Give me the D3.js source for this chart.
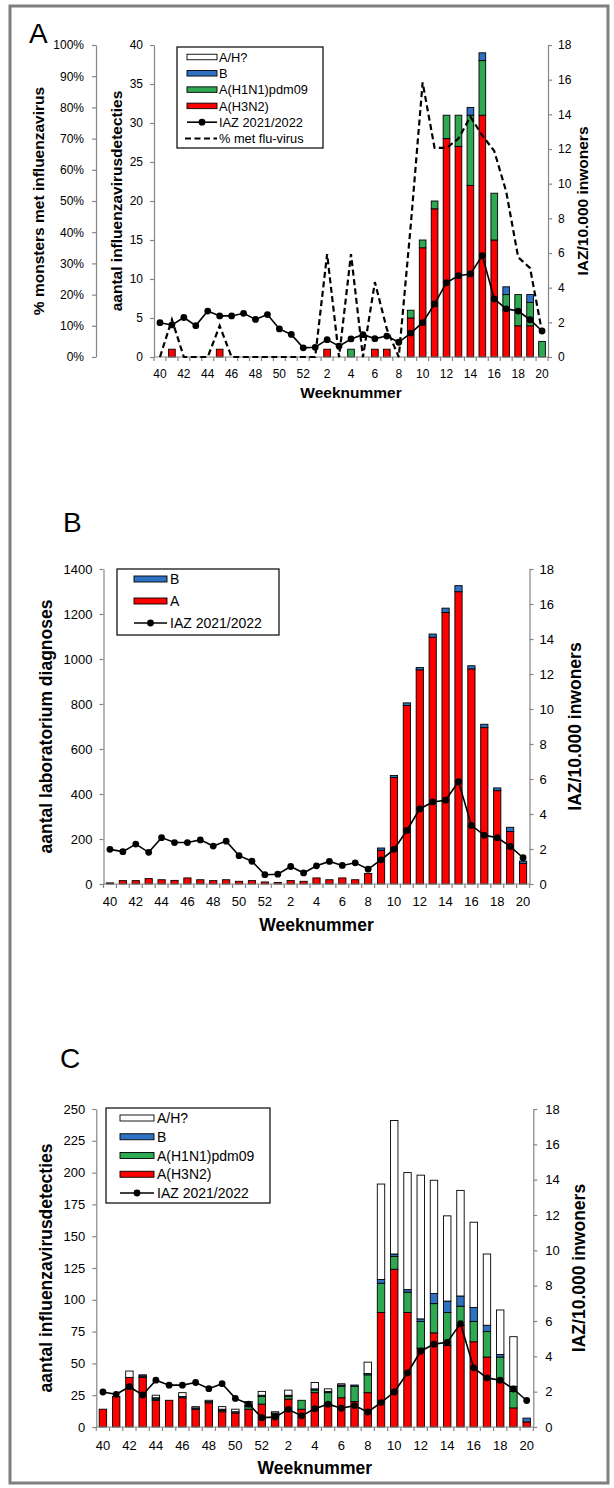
<!DOCTYPE html>
<html>
<head>
<meta charset="utf-8">
<script src="https://cdn.jsdelivr.net/npm/d3@7"></script>
<style>
  body { margin: 0; background: #fff; }
  svg { display: block; font-family: "Liberation Sans", Arial, sans-serif; }
</style>
</head>
<body>
<svg id="chart" width="614" height="1488"></svg>
<script>
// weeknummers seizoen 2021/2022 (week 40 t/m week 20)
const weeks = [40,41,42,43,44,45,46,47,48,49,50,51,52,1,2,3,4,5,6,7,8,9,10,11,12,13,14,15,16,17,18,19,20];

// IAZ per 10.000 inwoners (zelfde lijn in alle panelen)
const iaz = [1.98,1.85,2.28,1.81,2.65,2.37,2.37,2.52,2.17,2.45,1.62,1.3,0.53,
             0.56,1.0,0.63,1.04,1.29,1.06,1.21,0.85,1.38,1.98,3.06,4.29,4.69,4.79,5.85,3.35,2.78,2.65,2.15,1.5];

// paneel A: sentinel monsters
const pctFlu = [0,12,0,0,0,10,0,0,0,0,0,0,0,
                0,33,0,33,0,24,9,0,42,88,67,67,70,77,71,66,53,32,28.5,8];
const aH3N2 = [0,1,0,0,0,1,0,0,0,0,0,0,0, 0,1,0,0,0,1,1,0,5,14,19,28,27,22,31,15,6,4,4,0];
const aH1N1 = [0,0,0,0,0,0,0,0,0,0,0,0,0, 0,0,0,1,0,0,0,0,1,1,1,3,4,9,7,6,2,4,3,2];
const aB    = [0,0,0,0,0,0,0,0,0,0,0,0,0, 0,0,0,0,0,0,0,0,0,0,0,0,0,1,1,0,1,0,1,0];
const aAH   = [0,0,0,0,0,0,0,0,0,0,0,0,0, 0,0,0,0,0,0,0,0,0,0,0,0,0,0,0,0,0,0,0,0];

// paneel B: laboratorium diagnoses
const labA = [5,15,15,24,19,16,27,19,15,19,12,15,9, 7,15,12,27,19,27,19,47,150,473,793,952,1097,1207,1299,956,695,415,233,92];
const labB = [0,0,0,0,0,0,0,0,0,0,0,0,0, 0,0,0,0,0,0,0,0,10,9,12,10,14,19,27,14,15,12,19,10];

// paneel C: alle influenzavirusdetecties
const cH3N2 = [14,24,39,39,21,21,23,14,19,12,11,14,18, 8,22,14,27,18,23,20,27,90,124,90,62,74,64,80,67,55,35,15,4];
const cH1N1 = [0,0,0,1,1,0,0,0,0,1,0,2,6, 2,2,7,2,9,9,12,14,23,10,16,21,23,26,15,16,20,20,13,0];
const cB    = [0,0,0,1,1,0,1,1,1,1,1,1,1, 1,1,0,1,1,1,1,1,3,2,2,2,8,9,8,11,5,2,4,3];
const cAH   = [0,0,5,0,2,0,3,1,1,2,2,3,3, 1,4,0,5,2,1,0,9,75,105,92,113,89,67,83,67,56,35,39,0];

const kleur = { H3N2: "#ff0000", H1N1: "#2ea851", B: "#2f72c4", AH: "#ffffff", A: "#ff0000" };
const naam = { AH: "A/H?", B: "B", H1N1: "A(H1N1)pdm09", H3N2: "A(H3N2)", A: "A" };
const asKleur = "#868686";

const svg = d3.select("#chart");

// grijze kader rond de figuur
svg.append("rect")
    .attr("x", 10).attr("y", 6).attr("width", 598).attr("height", 1477)
    .attr("fill", "none").attr("stroke", "#7f7f7f").attr("stroke-width", 3);

function styleAxis(g, fs) {
    g.select(".domain").attr("stroke", asKleur).attr("stroke-width", 1.2);
    g.selectAll(".tick line").attr("stroke", asKleur).attr("stroke-width", 1.2);
    g.selectAll(".tick text").attr("fill", "#000").attr("font-size", fs).attr("font-family", null);
}

function rotTitle(g, text, x, yc, fs) {
    g.append("text")
        .attr("transform", `translate(${x},${yc}) rotate(-90)`)
        .attr("text-anchor", "middle").attr("dy", "0.35em")
        .attr("font-size", fs).attr("font-weight", "bold")
        .text(text);
}

function panel(o) {
    const g = svg.append("g");
    const n = weeks.length;

    const x = d3.scaleBand().domain(d3.range(n)).range([o.x0, o.x1])
        .paddingInner(0.44).paddingOuter(0.22);
    const cx = i => x(i) + x.bandwidth() / 2;
    const y = d3.scaleLinear().domain([0, o.yMax]).range([o.y1, o.y0]);
    const yR = d3.scaleLinear().domain([0, 18]).range([o.y1, o.y0]);

    // gestapelde staven
    const rows = weeks.map((w, i) => {
        const r = {};
        o.keys.forEach(k => r[k] = o.series[k][i]);
        return r;
    });
    const layers = d3.stack().keys(o.keys)(rows);
    layers.forEach(layer => {
        g.append("g").selectAll("rect")
            .data(layer.map((d, i) => ({ d, i })).filter(e => e.d[1] - e.d[0] > 0))
            .join("rect")
            .attr("x", e => x(e.i))
            .attr("width", x.bandwidth())
            .attr("y", e => y(e.d[1]))
            .attr("height", e => y(e.d[0]) - y(e.d[1]))
            .attr("fill", kleur[layer.key])
            .attr("stroke", "#000").attr("stroke-width", 0.9);
    });

    // x-as
    g.append("line").attr("x1", o.x0).attr("x2", o.x1).attr("y1", o.y1).attr("y2", o.y1)
        .attr("stroke", asKleur).attr("stroke-width", 1.2);
    g.append("g").selectAll("line")
        .data(d3.range(n + 1))
        .join("line")
        .attr("x1", i => o.x0 + i * x.step()).attr("x2", i => o.x0 + i * x.step())
        .attr("y1", o.y1).attr("y2", o.y1 + 4)
        .attr("stroke", asKleur).attr("stroke-width", 1.2);
    g.append("g").selectAll("text")
        .data(d3.range(0, n, 2))
        .join("text")
        .attr("x", i => cx(i)).attr("y", o.xLabelY)
        .attr("text-anchor", "middle").attr("font-size", o.fs)
        .text(i => weeks[i]);
    g.append("text")
        .attr("x", (o.x0 + o.x1) / 2).attr("y", o.xTitleY)
        .attr("text-anchor", "middle").attr("font-size", o.ts).attr("font-weight", "bold")
        .text("Weeknummer");

    // linker as
    const ga = g.append("g").attr("transform", `translate(${o.x0},0)`)
        .call(d3.axisLeft(y).tickValues(d3.range(0, o.yMax + 1, o.yStep))
            .tickSizeInner(4).tickSizeOuter(0).tickPadding(o.pad).tickFormat(d3.format("d")));
    styleAxis(ga, o.fs);
    rotTitle(g, o.leftTitle, o.leftTitleX, (o.y0 + o.y1) / 2, o.ts);

    // rechter as
    const gr = g.append("g").attr("transform", `translate(${o.x1},0)`)
        .call(d3.axisRight(yR).tickValues(d3.range(0, 19, 2))
            .tickSizeInner(4).tickSizeOuter(0).tickPadding(o.padR).tickFormat(d3.format("d")));
    styleAxis(gr, o.fs);
    rotTitle(g, "IAZ/10.000 inwoners", o.rightTitleX, (o.y0 + o.y1) / 2, o.ts);

    // percentage-as (alleen paneel A)
    if (o.pct) {
        const yP = d3.scaleLinear().domain([0, 100]).range([o.y1, o.y0]);
        const gp = g.append("g").attr("transform", `translate(${o.pct.x},0)`)
            .call(d3.axisLeft(yP).tickValues(d3.range(0, 101, 10))
                .tickSizeInner(4).tickSizeOuter(0).tickPadding(8).tickFormat(d => d + "%"));
        styleAxis(gp, o.fs);
        rotTitle(g, "% monsters met influenzavirus", o.pct.titleX, (o.y0 + o.y1) / 2, o.ts);

        g.append("path")
            .datum(pctFlu)
            .attr("fill", "none").attr("stroke", "#000").attr("stroke-width", 2.2)
            .attr("stroke-dasharray", "6,3.5")
            .attr("d", d3.line().x((d, i) => cx(i)).y(d => yP(d)));
    }

    // IAZ lijn
    g.append("path")
        .datum(iaz)
        .attr("fill", "none").attr("stroke", "#000").attr("stroke-width", 1.6)
        .attr("d", d3.line().x((d, i) => cx(i)).y(d => yR(d)));
    g.append("g").selectAll("circle")
        .data(iaz)
        .join("circle")
        .attr("cx", (d, i) => cx(i)).attr("cy", d => yR(d)).attr("r", 3.4)
        .attr("fill", "#000");

    // paneelletter
    g.append("text").attr("x", o.letter.x).attr("y", o.letter.y)
        .attr("font-size", 28).text(o.letter.t);

    // legenda
    const L = o.legend;
    const lg = g.append("g").attr("transform", `translate(${L.x},${L.y})`);
    lg.append("rect").attr("width", L.w).attr("height", L.h)
        .attr("fill", "#fff").attr("stroke", "#000").attr("stroke-width", 1.2);
    L.items.forEach((it, j) => {
        const ry = L.row0 + j * L.dy;
        if (it === "IAZ") {
            lg.append("line").attr("x1", L.sx).attr("x2", L.sx + L.sw).attr("y1", ry).attr("y2", ry)
                .attr("stroke", "#000").attr("stroke-width", 1.6);
            lg.append("circle").attr("cx", L.sx + L.sw / 2).attr("cy", ry).attr("r", 3.4).attr("fill", "#000");
        } else if (it === "PCT") {
            lg.append("line").attr("x1", L.sx - 2).attr("x2", L.sx + L.sw).attr("y1", ry).attr("y2", ry)
                .attr("stroke", "#000").attr("stroke-width", 2.2).attr("stroke-dasharray", "6,3.5");
        } else {
            lg.append("rect").attr("x", L.sx).attr("y", ry - L.sh / 2)
                .attr("width", L.sw).attr("height", L.sh)
                .attr("fill", kleur[it]).attr("stroke", "#000").attr("stroke-width", 0.9);
        }
        const label = it === "IAZ" ? "IAZ 2021/2022" : it === "PCT" ? "% met flu-virus" : naam[it];
        lg.append("text").attr("x", L.tx).attr("y", ry).attr("dy", "0.36em")
            .attr("font-size", L.fs).text(label);
    });
}

panel({
    x0: 154, x1: 548, y0: 45, y1: 357, yMax: 40, yStep: 5,
    fs: 12, ts: 15.5, pad: 7, padR: 6,
    keys: ["H3N2", "H1N1", "B", "AH"],
    series: { H3N2: aH3N2, H1N1: aH1N1, B: aB, AH: aAH },
    xLabelY: 377.5, xTitleY: 398,
    leftTitle: "aantal influenzavirusdetecties", leftTitleX: 117, rightTitleX: 583,
    pct: { x: 96, titleX: 39 },
    letter: { t: "A", x: 29, y: 43 },
    legend: { x: 177, y: 47, w: 146, h: 101, sx: 10, sw: 30, sh: 5.5, tx: 42, row0: 10, dy: 16.3, fs: 12.8,
              items: ["AH", "B", "H1N1", "H3N2", "IAZ", "PCT"] }
});

panel({
    x0: 103.5, x1: 529.5, y0: 569, y1: 884, yMax: 1400, yStep: 200,
    fs: 13, ts: 17.5, pad: 7, padR: 6,
    keys: ["A", "B"],
    series: { A: labA, B: labB },
    xLabelY: 905.5, xTitleY: 931,
    leftTitle: "aantal laboratorium diagnoses", leftTitleX: 46, rightTitleX: 575,
    letter: { t: "B", x: 63, y: 532 },
    legend: { x: 117, y: 569, w: 162, h: 66, sx: 17, sw: 33, sh: 6, tx: 53, row0: 10, dy: 22, fs: 14,
              items: ["B", "A", "IAZ"] }
});

panel({
    x0: 96.3, x1: 533.3, y0: 1109, y1: 1427, yMax: 250, yStep: 25,
    fs: 13, ts: 17.5, pad: 7, padR: 8,
    keys: ["H3N2", "H1N1", "B", "AH"],
    series: { H3N2: cH3N2, H1N1: cH1N1, B: cB, AH: cAH },
    xLabelY: 1449.5, xTitleY: 1474,
    leftTitle: "aantal influenzavirusdetecties", leftTitleX: 46, rightTitleX: 579,
    letter: { t: "C", x: 60, y: 1068 },
    legend: { x: 106, y: 1108, w: 164, h: 95, sx: 14, sw: 34, sh: 6, tx: 51, row0: 10, dy: 18.75, fs: 14,
              items: ["AH", "B", "H1N1", "H3N2", "IAZ"] }
});
</script>
</body>
</html>
